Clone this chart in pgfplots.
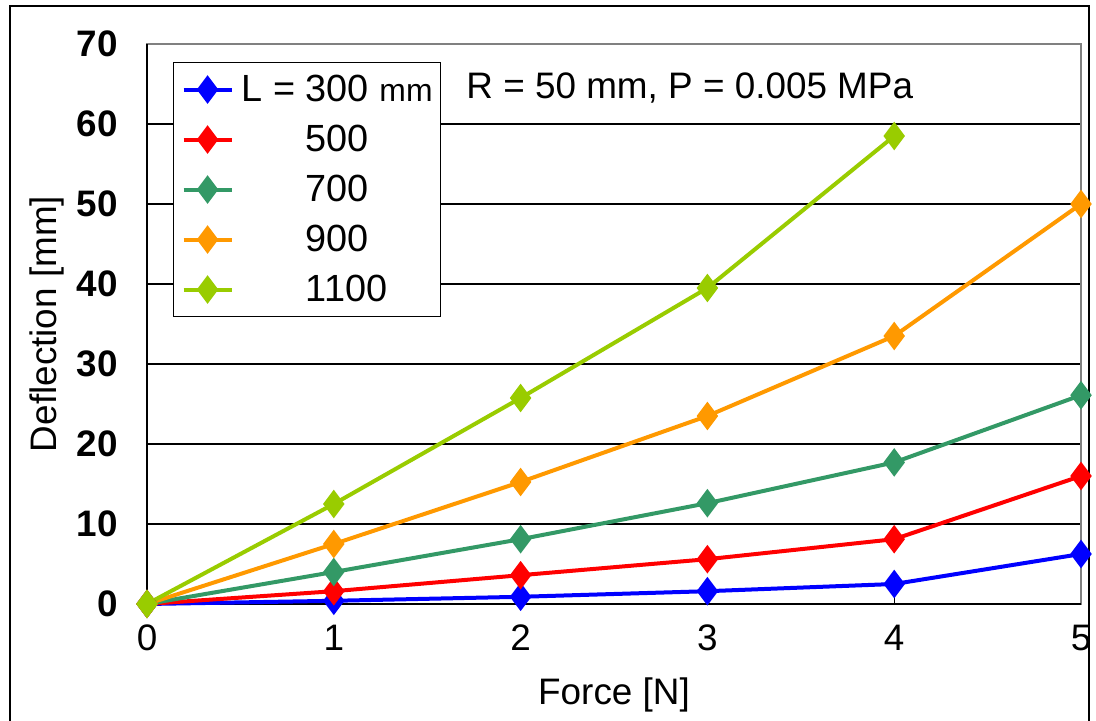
\documentclass[border=0pt]{standalone}
\usepackage{fontspec}
\setmainfont{Liberation Sans}
\usepackage{pgfplots}
\pgfplotsset{compat=1.18}
\definecolor{cblue}{HTML}{0000FF}
\definecolor{cred}{HTML}{FF0000}
\definecolor{cgreen}{HTML}{339966}
\definecolor{corange}{HTML}{FF9900}
\definecolor{clime}{HTML}{99CC00}
\newcommand{\fs}{\fontsize{18.5}{20}\selectfont}
\begin{document}
\begin{tikzpicture}
\useasboundingbox (0,0) rectangle (548bp,360.5bp);
\draw[black, line width=0.6bp] (5bp,-5bp) rectangle (544.5bp,357.5bp);
\begin{axis}[
  at={(73.5bp,58.5bp)}, anchor=south west,
  width=467bp, height=280bp, scale only axis,
  xmin=0, xmax=5, ymin=0, ymax=70,
  xtick={0,1,2,3,4,5}, ytick={0,10,...,70},
  ymajorgrids, grid style={black, line width=0.6bp},
  axis line style={gray, line width=0.6bp},
  tick align=inside, xtick pos=left, ytick pos=left,
  major tick length=5bp, tick style={black, line width=0.6bp},
  ytick style={draw=none},
  /pgf/number format/assume math mode=true,
  xticklabel style={font=\fs, yshift=-7bp},
  yticklabel style={font=\fs\bfseries, xshift=-11bp},
  xlabel={Force [N]}, ylabel={Deflection [mm]},
  xlabel style={font=\fs, at={(axis description cs:0.5,0)}, anchor=center, yshift=-45.5bp},
  ylabel style={font=\fs, at={(axis description cs:0,0.5)}, anchor=center, rotate=0, yshift=50bp},
  clip=false,
  every axis plot/.append style={line width=2bp, mark=diamond*, mark size=5.5bp, mark options={solid}},
  legend image code/.code={\draw[mark repeat=2,mark phase=2,#1] plot coordinates {(0bp,0bp) (12bp,0bp) (24bp,0bp)};},
  legend style={at={(rel axis cs:0.0278,0.968)}, anchor=north west, draw=black, line width=0.6bp,
    font=\fontsize{19}{20}\selectfont, inner xsep=4bp, inner ysep=1bp, column sep=4bp,
    nodes={inner sep=0pt, minimum height=25bp, anchor=west}},
  legend cell align=left,
]
\draw[black, line width=0.6bp] (rel axis cs:0,0) -- (rel axis cs:0,1);
\draw[black, line width=0.6bp] (rel axis cs:0,0) -- (rel axis cs:1,0);
\addplot[cblue] coordinates {(0,0) (1,0.4) (2,0.9) (3,1.6) (4,2.5) (5,6.25)};
\addlegendentry{L = 300 {\fontsize{16}{17}\selectfont mm}}
\addplot[cred] coordinates {(0,0) (1,1.6) (2,3.6) (3,5.6) (4,8.1) (5,16.0)};
\addlegendentry{\phantom{L = }500}
\addplot[cgreen] coordinates {(0,0) (1,4.0) (2,8.1) (3,12.6) (4,17.7) (5,26.1)};
\addlegendentry{\phantom{L = }700}
\addplot[corange] coordinates {(0,0) (1,7.5) (2,15.25) (3,23.5) (4,33.5) (5,50.0)};
\addlegendentry{\phantom{L = }900}
\addplot[clime] coordinates {(0,0) (1,12.5) (2,25.75) (3,39.5) (4,58.5)};
\addlegendentry{\phantom{L = }1100}
\node[anchor=west, inner sep=0pt, font=\fs] at (axis cs:1.708,64.5) {R = 50 mm, P = 0.005 MPa};
\end{axis}
\end{tikzpicture}
\end{document}
